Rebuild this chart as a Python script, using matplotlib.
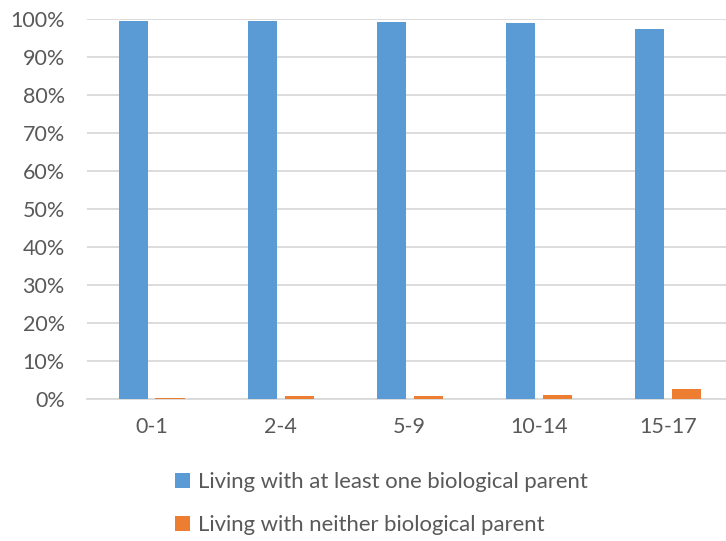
import numpy as np
import matplotlib
matplotlib.use("Agg")
from matplotlib import pyplot as plt
from matplotlib.patches import Patch

# age groups and share of children in each living arrangement
age_groups = ["0-1", "2-4", "5-9", "10-14", "15-17"]
with_parent = [0.996, 0.994, 0.992, 0.990, 0.974]
neither_parent = [0.003, 0.008, 0.007, 0.010, 0.026]

series_labels = ["Living with at least one biological parent",
                 "Living with neither biological parent"]

blue = "#5b9bd5"
orange = "#ed7d31"
text_grey = "#595959"
grid_grey = "#d9d9d9"

plt.rcParams["font.family"] = ["Lato", "DejaVu Sans"]
fs = 15.5

fig = plt.figure(figsize=(7.26, 5.41), dpi=100)
ax = fig.add_axes([87 / 726, 1 - 399 / 541, 1 - 87 / 726, (399 - 19) / 541])

x = np.arange(len(age_groups))
width = 0.225
offset = 0.143
ax.bar(x - offset, with_parent, width, color=blue, zorder=3)
ax.bar(x + offset, neither_parent, width, color=orange, zorder=3)

ax.set_ylim(0, 1)
ax.set_xlim(-0.5, len(age_groups) - 0.55)
ax.set_yticks(np.arange(0, 1.01, 0.1))
ax.set_yticklabels([f"{int(round(v * 100))}%" for v in np.arange(0, 1.01, 0.1)])
ax.set_xticks(x)
ax.set_xticklabels(age_groups)

ax.grid(axis="y", color=grid_grey, linewidth=1.3, zorder=0)
ax.set_axisbelow(True)
for side in ["top", "right", "left"]:
    ax.spines[side].set_visible(False)
ax.spines["bottom"].set_color(grid_grey)
ax.spines["bottom"].set_linewidth(1.3)

ax.tick_params(axis="both", length=0, labelsize=fs, labelcolor=text_grey)
ax.tick_params(axis="y", pad=16)
ax.tick_params(axis="x", pad=13)

handles = [Patch(facecolor=blue), Patch(facecolor=orange)]
fig.legend(handles, series_labels, loc="upper left",
           bbox_to_anchor=(175 / 726, 1 - 472 / 541), frameon=False,
           fontsize=15.9, labelcolor=text_grey, handlelength=0.68,
           handleheight=0.68, handletextpad=0.35, labelspacing=1.05,
           borderpad=0, borderaxespad=0)

fig.savefig("out.png", dpi=100)
